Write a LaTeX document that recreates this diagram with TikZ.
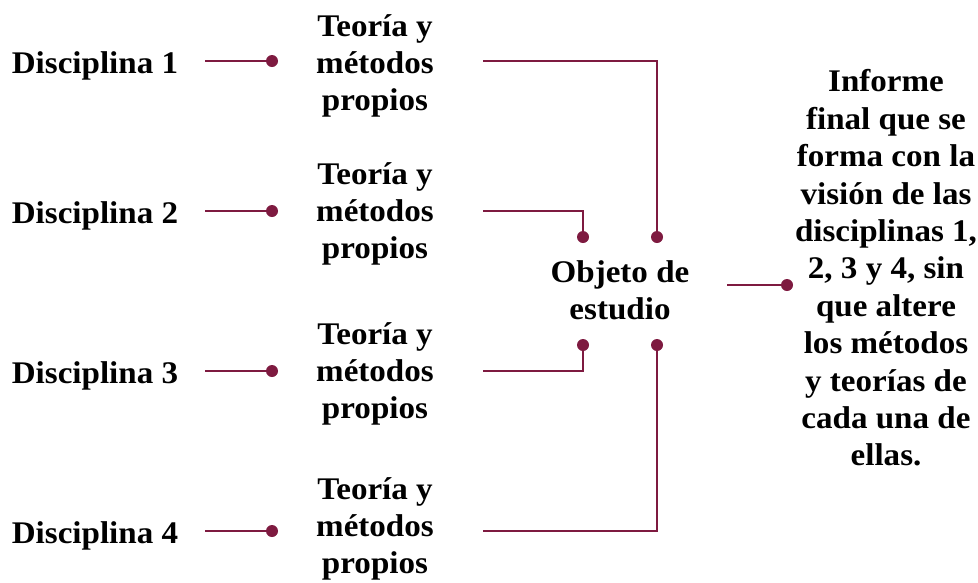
\documentclass[tikz,border=0pt]{standalone}
\usepackage{fontspec}
\setmainfont[FakeStretch=1.05]{Liberation Serif}
\definecolor{wine}{HTML}{7E1A40}
\begin{document}
\begin{tikzpicture}[x=1pt,y=-1pt,
  txt/.style={font=\bfseries\fontsize{31.5}{37.4}\selectfont, align=center, inner sep=0pt},
  wire/.style={draw=wine, line width=2.8pt},
  dot/.style={circle, fill=wine, inner sep=0pt, minimum size=12pt}]
\useasboundingbox (0,0) rectangle (978,582);
% disciplines
\node[txt, anchor=base] (d1) at (95,73) {Disciplina 1};
\node[txt, anchor=base] (d2) at (95,223) {Disciplina 2};
\node[txt, anchor=base] (d3) at (95,383) {Disciplina 3};
\node[txt, anchor=base] (d4) at (95,543) {Disciplina 4};
% theory blocks
\node[txt] (t1) at (375,66) {Teoría y\\métodos\\propios};
\node[txt] (t2) at (375,214) {Teoría y\\métodos\\propios};
\node[txt] (t3) at (375,374) {Teoría y\\métodos\\propios};
\node[txt] (t4) at (375,529) {Teoría y\\métodos\\propios};
% object and report
\node[txt] (obj) at (620,290) {Objeto de\\estudio};
\node[txt] (inf) at (886,268) {Informe\\final que se\\forma con la\\visión de las\\disciplinas 1,\\2, 3 y 4, sin\\que altere\\los métodos\\y teorías de\\cada una de\\ellas.};
% dots
\node[dot] (p1) at (272,61) {};
\node[dot] (p2) at (272,211) {};
\node[dot] (p3) at (272,371) {};
\node[dot] (p4) at (272,531) {};
\node[dot] (oa) at (583,237) {};
\node[dot] (ob) at (657,237) {};
\node[dot] (oc) at (583,345) {};
\node[dot] (od) at (657,345) {};
\node[dot] (pe) at (787,285) {};
% line starts
\coordinate (s1) at (205,61);
\coordinate (s2) at (205,211);
\coordinate (s3) at (205,371);
\coordinate (s4) at (205,531);
\coordinate (r1) at (483,61);
\coordinate (r2) at (483,211);
\coordinate (r3) at (483,371);
\coordinate (r4) at (483,531);
\coordinate (re) at (727,285);
% connectors
\draw[wire] (s1) -- (p1.center);
\draw[wire] (s2) -- (p2.center);
\draw[wire] (s3) -- (p3.center);
\draw[wire] (s4) -- (p4.center);
\draw[wire] (r1) -| (ob.center);
\draw[wire] (r2) -| (oa.center);
\draw[wire] (r3) -| (oc.center);
\draw[wire] (r4) -| (od.center);
\draw[wire] (re) -- (pe.center);
\end{tikzpicture}
\end{document}
